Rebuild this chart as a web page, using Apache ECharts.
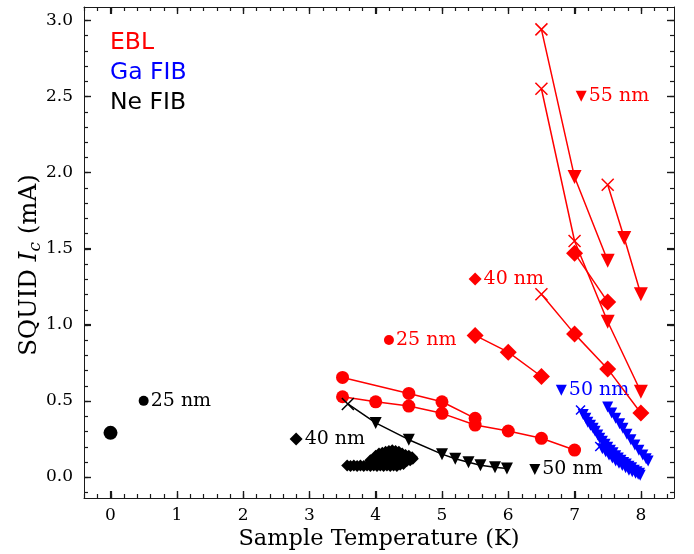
<!DOCTYPE html>
<html><head><meta charset="utf-8">
<script src="https://cdn.jsdelivr.net/npm/echarts@6/dist/echarts.min.js"></script>
<style>html,body{margin:0;padding:0;background:#fff}#c{width:694px;height:554px}</style>
</head><body><div id="c"></div>
<script>
// ---------- tick labels ----------
const xTicks = [0, 1, 2, 3, 4, 5, 6, 7, 8];
const yTicks = [0, 0.5, 1, 1.5, 2, 2.5, 3];

// ---------- EBL (red) ----------
const eblCirc1 = [[3.5,0.654],[4.5,0.549],[5.0,0.494],[5.5,0.385]];
const eblCirc1M = ['o','o','o','o'];
const eblCirc2 = [[3.5,0.527],[4.0,0.494],[4.5,0.466],[5.0,0.418],[5.5,0.341],[6.0,0.302],[6.5,0.254],[7.0,0.177]];
const eblCirc2M = ['o','o','o','o','o','o','o','o'];
const eblDiam1 = [[5.5,0.93],[6.0,0.82],[6.5,0.66]];
const eblDiam1M = ['D','D','D'];
const eblDiam2 = [[6.5,1.20],[7.0,0.94],[7.5,0.71],[8.0,0.42]];
const eblDiam2M = ['x','D','D','D'];
const eblDiam3 = [[7.0,1.47],[7.5,1.15]];
const eblDiam3M = ['D','D'];
const eblTri1 = [[6.5,2.94],[7.0,1.97],[7.5,1.42]];
const eblTri1M = ['x','v','v'];
const eblTri2 = [[6.5,2.55],[7.0,1.55],[7.5,1.02],[8.0,0.56]];
const eblTri2M = ['x','x','v','v'];
const eblTri3 = [[7.5,1.92],[7.75,1.57],[8.0,1.20]];
const eblTri3M = ['x','v','v'];

// ---------- Ga FIB (blue) ----------
const gaSweep1 = [[7.09,0.44],[7.13,0.41],[7.17,0.385],[7.20,0.36],[7.24,0.34],[7.28,0.32],[7.31,0.30],[7.35,0.275],[7.38,0.255],[7.42,0.235],[7.46,0.215],[7.50,0.195],[7.54,0.175],[7.58,0.16],[7.62,0.14],[7.66,0.125],[7.70,0.11],[7.74,0.095],[7.78,0.085],[7.82,0.07],[7.86,0.06],[7.90,0.045],[7.94,0.035],[7.98,0.025]];
const gaSweep1M = ['x','v','v','v','v','v','v','v','v','v','v','v','v','v','v','v','v','v','v','v','v','v','v','v'];
const gaSweep2 = [[7.38,0.20],[7.42,0.185],[7.47,0.165],[7.52,0.145],[7.57,0.125],[7.62,0.105],[7.67,0.09],[7.72,0.075],[7.77,0.06],[7.82,0.045],[7.87,0.035],[7.92,0.025],[7.96,0.018],[7.99,0.012]];
const gaSweep2M = ['x','v','v','v','v','v','v','v','v','v','v','v','v','v'];
const gaSweep3 = [[7.50,0.46],[7.56,0.42],[7.62,0.385],[7.68,0.35],[7.73,0.32],[7.79,0.28],[7.85,0.245],[7.91,0.21],[7.97,0.175],[8.03,0.145],[8.08,0.12],[8.11,0.105]];
const gaSweep3M = ['v','v','v','v','v','v','v','v','v','v','v','v'];

// ---------- Ne FIB (black) ----------
const neCirc = [[0,0.29]];
const neCircM = ['o'];
const neTri = [[3.58,0.48],[4.0,0.355],[4.5,0.245],[5.0,0.15],[5.2,0.12],[5.4,0.097],[5.58,0.077],[5.8,0.064],[5.98,0.055]];
const neTriM = ['x','v','v','v','v','v','v','v','v'];
const neDiam = [[3.57,0.075],[3.62,0.072],[3.67,0.076],[3.72,0.073],[3.77,0.076],[3.82,0.072],[3.87,0.075],[3.92,0.073],[3.97,0.076],[4.02,0.072],[4.07,0.075],[4.12,0.073],[4.17,0.076],[4.22,0.072],[4.27,0.075],[4.32,0.073],[4.37,0.08],[4.42,0.085],
  [3.92,0.11],[3.97,0.10],[4.02,0.12],[4.07,0.11],[4.12,0.13],[4.17,0.12],[4.22,0.13],[4.27,0.12],[4.32,0.125],[4.37,0.115],[4.42,0.11],[4.47,0.105],[4.52,0.11],[4.56,0.12],
  [4.0,0.14],[4.05,0.155],[4.1,0.16],[4.15,0.165],[4.2,0.17],[4.25,0.175],[4.3,0.17],[4.35,0.165],[4.4,0.155],[4.45,0.145],[4.5,0.14],[4.55,0.13]];

// ---------- annotations ----------
const annRed = [[4.2,0.9,'o','25 nm'],[5.5,1.3,'D','40 nm'],[7.1,2.5,'v','55 nm']];
const annBlue = [[6.8,0.57,'v','50 nm']];
const annBlack = [[0.5,0.5,'o','25 nm'],[2.8,0.25,'D','40 nm'],[6.4,0.05,'v','50 nm']];

const RED = '#ff0000', BLUE = '#0000ff', BLACK = '#000000';
const XPATH = 'path://M0,0L10,10M10,0L0,10';
const SERIF = 'DejaVu Serif';

function sym(m) {
  if (m === 'o') return {symbol: 'circle', symbolRotate: 0};
  if (m === 'D') return {symbol: 'diamond', symbolRotate: 0};
  if (m === 'v') return {symbol: 'triangle', symbolRotate: 180};
  return {symbol: XPATH, symbolRotate: 0};
}

function lineSeries(pts, marks, color, sizes, showLine) {
  return {
    type: 'line',
    xAxisIndex: 0, yAxisIndex: 0,
    showAllSymbol: true,
    animation: false,
    silent: true,
    lineStyle: {color: color, width: showLine === false ? 0 : 1.5},
    data: pts.map((p, i) => {
      const m = marks ? marks[i] : 'D';
      const s = sym(m);
      return {
        value: p,
        symbol: s.symbol,
        symbolRotate: s.symbolRotate,
        symbolSize: sizes[m],
        itemStyle: m === 'x'
          ? {color: 'rgba(0,0,0,0)', borderColor: color, borderWidth: 1.5, opacity: 1}
          : {color: color, borderWidth: 0, opacity: 1}
      };
    })
  };
}

function annSeries(items, color, sizes) {
  return {
    type: 'scatter',
    xAxisIndex: 0, yAxisIndex: 0,
    animation: false, silent: true,
    data: items.map(a => {
      const s = sym(a[2]);
      return {
        value: [a[0], a[1]], name: a[3],
        symbol: s.symbol, symbolRotate: s.symbolRotate, symbolSize: sizes[a[2]],
        itemStyle: {color: color, opacity: 1}
      };
    }),
    label: {show: true, position: 'right', distance: 2, formatter: '{b}',
      fontFamily: SERIF, fontSize: 19, color: color}
  };
}

const redSz = {o: 13, D: 17, v: 14, x: 12};
const blueSz = {o: 11, D: 11, v: 11, x: 9};
const blackSz = {o: 14, D: 12, v: 12, x: 12};
const annSz = {o: 10, D: 13, v: 11, x: 10};

const xMin = -0.4, xMax = 8.5, yMin = -0.138, yMax = 3.087;
const xMinor = [], yMinor = [];
for (let i = -2; i <= 42; i++) xMinor.push(Math.round(i * 2) / 10);
for (let i = -1; i <= 30; i++) yMinor.push(Math.round(i) / 10);

const AX = '#1a1a1a';
function xAx(pos) {
  return {
    type: 'value', min: xMin, max: xMax, position: pos,
    axisLine: {show: true, onZero: false, lineStyle: {color: AX, width: 1}},
    axisTick: {show: true, inside: true, length: 7, customValues: xTicks, lineStyle: {color: AX, width: 1.2}},
    axisLabel: {show: pos === 'bottom', customValues: xTicks, fontFamily: SERIF, fontSize: 17, color: '#000', margin: 9},
    splitLine: {show: false}
  };
}
function yAx(pos) {
  return {
    type: 'value', min: yMin, max: yMax, position: pos,
    axisLine: {show: true, onZero: false, lineStyle: {color: AX, width: 1}},
    axisTick: {show: true, inside: true, length: 7, customValues: yTicks, lineStyle: {color: AX, width: 1.2}},
    axisLabel: {show: pos === 'left', customValues: yTicks, fontFamily: SERIF, fontSize: 17, color: '#000', margin: 11,
      formatter: v => v.toFixed(1)},
    splitLine: {show: false}
  };
}

const texts = [
  {type: 'text', x: 110, y: 43, style: {text: 'EBL', fill: RED, fontFamily: 'DejaVu Sans', fontSize: 23.5, align: 'left', verticalAlign: 'middle'}},
  {type: 'text', x: 110, y: 73, style: {text: 'Ga FIB', fill: BLUE, fontFamily: 'DejaVu Sans', fontSize: 23.5, align: 'left', verticalAlign: 'middle'}},
  {type: 'text', x: 110, y: 103, style: {text: 'Ne FIB', fill: BLACK, fontFamily: 'DejaVu Sans', fontSize: 23.5, align: 'left', verticalAlign: 'middle'}},
  {type: 'text', x: 379, y: 539, style: {text: 'Sample Temperature (K)', fill: '#000', fontFamily: SERIF, fontSize: 22.5, align: 'center', verticalAlign: 'middle'}},
  {type: 'text', x: 30, y: 265, rotation: Math.PI / 2,
    style: {text: '{n|SQUID }{i|I}{s|c}{n| (mA)}', fill: '#000', align: 'center', verticalAlign: 'middle',
      rich: {
        n: {fontFamily: SERIF, fontSize: 24.5, fill: '#000', lineHeight: 29, verticalAlign: 'middle'},
        i: {fontFamily: SERIF, fontSize: 24.5, fontStyle: 'italic', fill: '#000', lineHeight: 29, verticalAlign: 'middle'},
        s: {fontFamily: SERIF, fontSize: 17, fontStyle: 'italic', fill: '#000', lineHeight: 16, verticalAlign: 'bottom'}
      }}}
];

const chart = echarts.init(document.getElementById('c'), null, {renderer: 'canvas'});
chart.setOption({
  backgroundColor: '#fff',
  animation: false,
  grid: {left: 84, right: 20, top: 7, bottom: 56, containLabel: false},
  xAxis: [xAx('bottom'), xAx('top')],
  yAxis: [yAx('left'), yAx('right')],
  series: [
    lineSeries(eblCirc1, eblCirc1M, RED, redSz),
    lineSeries(eblCirc2, eblCirc2M, RED, redSz),
    lineSeries(eblDiam1, eblDiam1M, RED, redSz),
    lineSeries(eblDiam2, eblDiam2M, RED, redSz),
    lineSeries(eblDiam3, eblDiam3M, RED, redSz),
    lineSeries(eblTri1, eblTri1M, RED, redSz),
    lineSeries(eblTri2, eblTri2M, RED, redSz),
    lineSeries(eblTri3, eblTri3M, RED, redSz),
    annSeries(annRed, RED, annSz),
    lineSeries(gaSweep1, gaSweep1M, BLUE, blueSz),
    lineSeries(gaSweep2, gaSweep2M, BLUE, blueSz),
    lineSeries(gaSweep3, gaSweep3M, BLUE, blueSz),
    annSeries(annBlue, BLUE, annSz),
    lineSeries(neCirc, neCircM, BLACK, blackSz),
    lineSeries(neTri, neTriM, BLACK, blackSz),
    lineSeries(neDiam, null, BLACK, blackSz, false),
    annSeries(annBlack, BLACK, annSz)
  ]
});

// inward ticks on all four sides, positioned through the chart's own scales
const tickEls = [];
const st = {stroke: AX, lineWidth: 1.2};
function px(v) { return chart.convertToPixel({xAxisIndex: 0, yAxisIndex: 0}, v); }
function addX(v, L) {
  const b = px([v, yMin]), t = px([v, yMax]);
  if (!b || !t || isNaN(b[0])) return;
  const x = Math.round(b[0]) + 0.5;
  tickEls.push({type: 'line', silent: true, z: 100, shape: {x1: x, y1: b[1], x2: x, y2: b[1] - L}, style: st});
  tickEls.push({type: 'line', silent: true, z: 100, shape: {x1: x, y1: t[1], x2: x, y2: t[1] + L}, style: st});
}
function addY(v, L) {
  const l = px([xMin, v]), r = px([xMax, v]);
  if (!l || !r || isNaN(l[1])) return;
  const y = Math.round(l[1]) + 0.5;
  tickEls.push({type: 'line', silent: true, z: 100, shape: {x1: l[0], y1: y, x2: l[0] + L, y2: y}, style: st});
  tickEls.push({type: 'line', silent: true, z: 100, shape: {x1: r[0], y1: y, x2: r[0] - L, y2: y}, style: st});
}
xMinor.forEach(v => addX(v, 4));
yMinor.forEach(v => addY(v, 4));
xTicks.forEach(v => addX(v, 7));
yTicks.forEach(v => addY(v, 7));

chart.setOption({graphic: {elements: texts.concat(tickEls)}});
</script></body></html>
